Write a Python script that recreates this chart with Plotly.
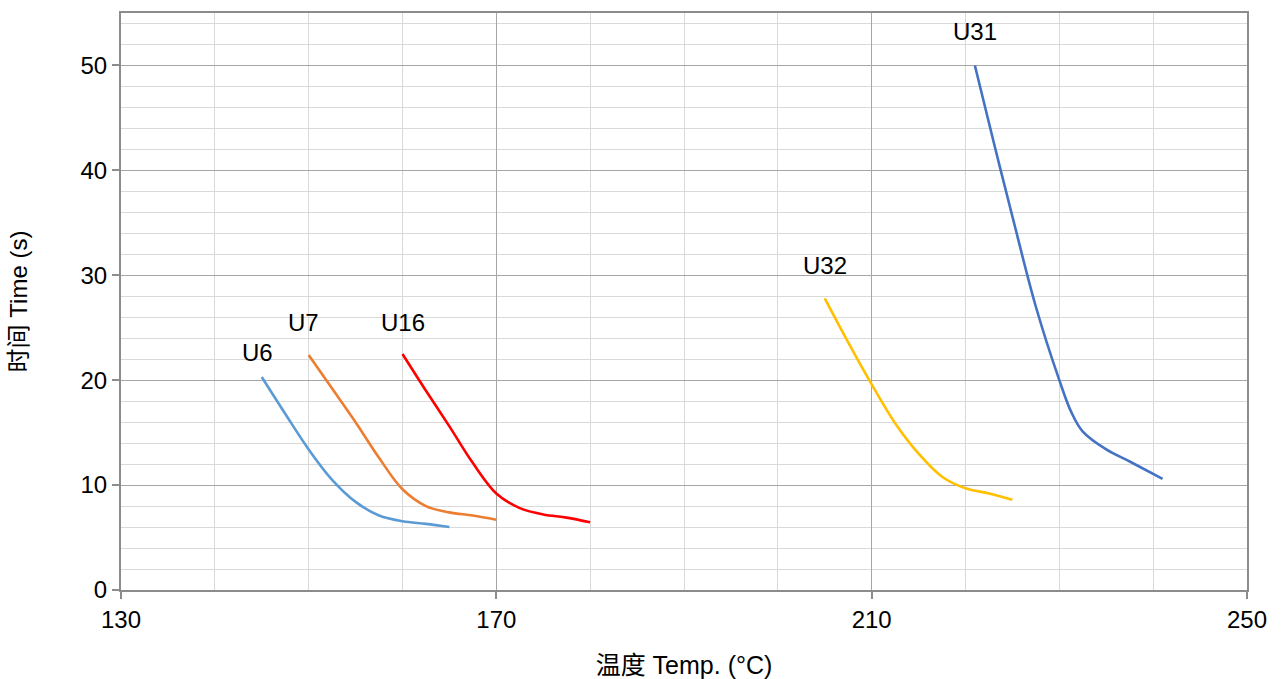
import plotly.graph_objects as go

# Data
u6_temp = [145, 147.5, 150, 152.5, 155, 157.5, 160, 162.5, 165]
u6_time = [20.3, 16.8, 13.4, 10.5, 8.4, 7.1, 6.55, 6.3, 6.0]

u7_temp = [150, 152.5, 155, 157.5, 160, 162.5, 165, 167.5, 170]
u7_time = [22.4, 19.2, 16.0, 12.6, 9.6, 8.0, 7.4, 7.1, 6.7]

u16_temp = [160, 162.5, 165, 167.5, 170, 172.5, 175, 177.5, 180]
u16_time = [22.5, 19.0, 15.6, 12.1, 9.2, 7.8, 7.2, 6.9, 6.45]

u32_temp = [205, 207.5, 210, 212.5, 215, 217.5, 220, 222.5, 225]
u32_time = [27.8, 23.6, 19.6, 15.9, 13.0, 10.8, 9.7, 9.2, 8.6]

u31_temp = [221, 223, 225, 227.5, 230, 231.25, 232.5, 235, 237.5, 241]
u31_time = [50.0, 42.7, 35.6, 27.0, 20.0, 17.0, 15.1, 13.4, 12.25, 10.6]

series = [
    ("U6", u6_temp, u6_time, "#5B9BD5"),
    ("U7", u7_temp, u7_time, "#ED7D31"),
    ("U16", u16_temp, u16_time, "#FF0000"),
    ("U32", u32_temp, u32_time, "#FFC000"),
    ("U31", u31_temp, u31_time, "#4472C4"),
]

# label positions (data coords)
label_names = ["U6", "U7", "U16", "U32", "U31"]
label_x = [144.5, 149.5, 160, 205, 221]
label_y = [22.6, 25.5, 25.5, 30.9, 53.2]

FONT = "Liberation Sans, Arial, Noto Sans CJK SC"

fig = go.Figure()
for name, xs, ys, col in series:
    fig.add_trace(go.Scatter(
        x=xs, y=ys, mode="lines", name=name,
        line=dict(color=col, width=2.6, shape="spline", smoothing=1.0),
        showlegend=False,
    ))

for n, lx, ly in zip(label_names, label_x, label_y):
    fig.add_annotation(x=lx, y=ly, text=n, showarrow=False,
                       font=dict(family=FONT, size=24, color="#000000"))

fig.update_layout(
    width=1281, height=679,
    margin=dict(l=121, r=34, t=13, b=89),
    paper_bgcolor="white", plot_bgcolor="white",
    font=dict(family=FONT, color="#000000"),
)

fig.update_xaxes(
    range=[130, 250], tick0=130, dtick=40,
    showgrid=True, gridcolor="#A6A6A6", gridwidth=1,
    minor=dict(dtick=10, tick0=130, showgrid=True, gridcolor="#D9D9D9", gridwidth=1),
    showline=True, linecolor="#8C8C8C", linewidth=2, mirror=True,
    ticks="outside", ticklen=7, tickcolor="#8C8C8C", tickwidth=2,
    tickfont=dict(size=24, family=FONT),
    title=dict(text="温度 Temp. (°C)", font=dict(size=25, family=FONT), standoff=25),
    zeroline=False, automargin=False,
)
fig.update_yaxes(
    range=[0, 55], tick0=0, dtick=10,
    showgrid=True, gridcolor="#A6A6A6", gridwidth=1,
    minor=dict(dtick=2, tick0=0, showgrid=True, gridcolor="#D9D9D9", gridwidth=1),
    showline=True, linecolor="#8C8C8C", linewidth=2, mirror=True,
    ticks="outside", ticklen=7, tickcolor="#8C8C8C", tickwidth=2,
    tickfont=dict(size=24, family=FONT),
    title=dict(text="时间 Time (s)", font=dict(size=24, family=FONT), standoff=46),
    zeroline=False, automargin=False,
)

fig.write_html("out.html",
               config={"displayModeBar": False},
               post_script="document.body.style.margin='0';document.body.style.overflow='hidden';")
